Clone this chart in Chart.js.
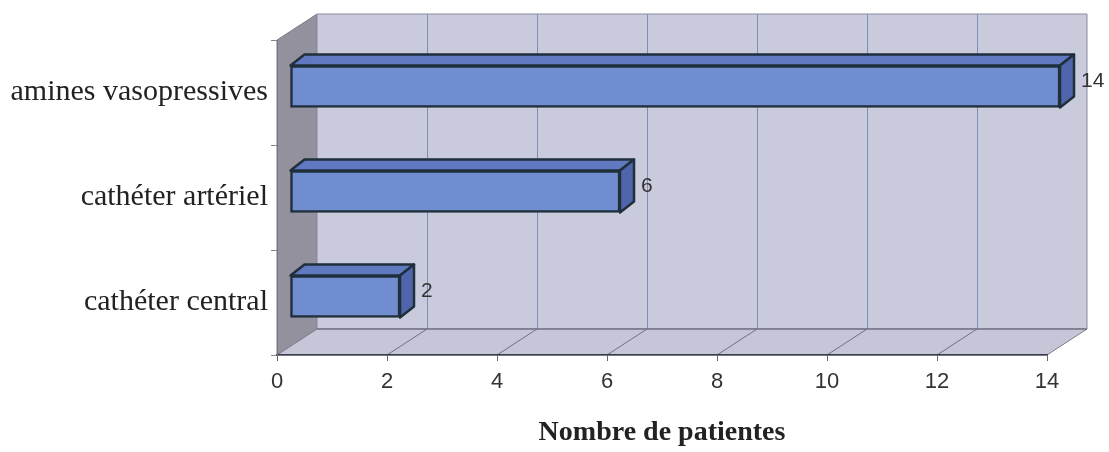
<!DOCTYPE html>
<html>
<head>
<meta charset="utf-8">
<style>
  html, body { margin: 0; padding: 0; background: #fff; }
</style>
</head>
<body>
<canvas id="myChart" width="1109" height="452"></canvas>
<script src="https://cdn.jsdelivr.net/npm/chart.js@4/dist/chart.umd.min.js"></script>
<script>
const categories = ['amines vasopressives', 'cathéter artériel', 'cathéter central'];
const patientCounts = [14, 6, 2];
const xTicks = [0, 2, 4, 6, 8, 10, 12, 14];
const axisTitle = 'Nombre de patientes';

// offsets used for the fake 3d look
const WALL = { dx: 40, dy: -26 };
const BAR = { dx: 14, dy: -11, shiftX: 13, shiftY: -6 };

function poly(ctx, pts, fill, stroke, width) {
    ctx.beginPath();
    ctx.moveTo(pts[0][0], pts[0][1]);
    for (let i = 1; i < pts.length; i++) ctx.lineTo(pts[i][0], pts[i][1]);
    ctx.closePath();
    if (fill) { ctx.fillStyle = fill; ctx.fill(); }
    if (stroke) { ctx.strokeStyle = stroke; ctx.lineWidth = width || 1; ctx.stroke(); }
}

function line(ctx, x1, y1, x2, y2, color, width) {
    ctx.beginPath();
    ctx.moveTo(x1, y1);
    ctx.lineTo(x2, y2);
    ctx.strokeStyle = color;
    ctx.lineWidth = width || 1;
    ctx.stroke();
}

const box3d = {
    id: 'box3d',
    beforeDraw(chart) {
        const ctx = chart.ctx;
        const a = chart.chartArea;
        const x = chart.scales.x;
        const L = a.left, R = a.right, T = a.top, B = a.bottom;
        const dx = WALL.dx, dy = WALL.dy;
        ctx.save();
        // side wall
        poly(ctx, [[L, T], [L + dx, T + dy], [L + dx, B + dy], [L, B]], '#92919d', '#7d7c88', 1);
        // back wall
        poly(ctx, [[L + dx, T + dy], [R + dx, T + dy], [R + dx, B + dy], [L + dx, B + dy]], '#c9cadc', '#8b8ba2', 1);
        // floor
        poly(ctx, [[L, B], [R, B], [R + dx, B + dy], [L + dx, B + dy]], '#c5c7d9', '#7b7b8c', 1);

        xTicks.forEach(v => {
            if (v === 0 || v === xTicks[xTicks.length - 1]) return;
            const px = x.getPixelForValue(v);
            line(ctx, px + dx + 0.5, T + dy, px + dx + 0.5, B + dy, '#7c8fb6', 1);
            line(ctx, px, B, px + dx, B + dy, '#6f7080', 1);
        });
        line(ctx, L + dx, B + dy, R + dx, B + dy, '#6d6d7c', 1.2);
        ctx.restore();
    },
    beforeDatasetsDraw(chart) {
        const ctx = chart.ctx;
        ctx.save();
        ctx.translate(BAR.shiftX, BAR.shiftY);
        ctx.lineJoin = 'round';
        chart.getDatasetMeta(0).data.forEach(bar => {
            const top = bar.y - bar.height / 2;
            const bot = bar.y + bar.height / 2;
            const l = bar.base, r = bar.x;
            poly(ctx, [[l, top], [l + BAR.dx, top + BAR.dy], [r + BAR.dx, top + BAR.dy], [r, top]], '#6079c0', '#1f2f3b', 2.5);
            poly(ctx, [[r, top], [r + BAR.dx, top + BAR.dy], [r + BAR.dx, bot + BAR.dy], [r, bot]], '#5066ac', '#1f2f3b', 2.5);
        });
    },
    afterDatasetsDraw(chart) {
        const ctx = chart.ctx;
        ctx.restore();
        ctx.save();
        ctx.font = '21px "Liberation Sans", Arial, sans-serif';
        ctx.fillStyle = '#333';
        ctx.textAlign = 'left';
        ctx.textBaseline = 'middle';
        const values = chart.data.datasets[0].data;
        chart.getDatasetMeta(0).data.forEach((bar, i) => {
            ctx.fillText(String(values[i]), bar.x + BAR.shiftX + BAR.dx + 7, bar.y + BAR.shiftY - 5);
        });
        ctx.restore();
    }
};

const ctx = document.getElementById('myChart').getContext('2d');
const chart = new Chart(ctx, {
    type: 'bar',
    data: {
        labels: categories,
        datasets: [{
            data: patientCounts,
            backgroundColor: '#708dd0',
            borderColor: '#1f2f3b',
            borderWidth: 2.5,
            borderSkipped: false,
            barThickness: 42,
            clip: false
        }]
    },
    options: {
        indexAxis: 'y',
        responsive: false,
        animation: false,
        layout: { padding: { top: 40, right: 62, left: 0, bottom: 0 } },
        plugins: {
            legend: { display: false },
            tooltip: { enabled: false }
        },
        scales: {
            x: {
                type: 'linear',
                min: 0,
                max: 14,
                afterBuildTicks: s => { s.ticks = xTicks.map(v => ({ value: v })); },
                afterFit: s => { s.height = 97; },
                grid: { drawOnChartArea: false, drawTicks: true, tickLength: 6, color: '#666' },
                border: { display: true, color: '#3a3a44', width: 1.5 },
                ticks: {
                    color: '#333',
                    padding: 8,
                    font: { family: '"Liberation Sans", Arial, sans-serif', size: 22 }
                },
                title: {
                    display: true,
                    text: axisTitle,
                    color: '#222',
                    padding: { top: 0, bottom: 2 },
                    font: { family: '"Liberation Serif", "Times New Roman", serif', size: 28, weight: 'bold' }
                }
            },
            y: {
                type: 'category',
                afterFit: s => { s.width = 277; },
                grid: { offset: true, drawOnChartArea: false, drawTicks: true, tickLength: 6, color: '#888' },
                border: { display: true, color: '#77767f', width: 1 },
                ticks: {
                    color: '#222',
                    padding: 3,
                    font: { family: '"Liberation Serif", "Times New Roman", serif', size: 30 }
                }
            }
        }
    },
    plugins: [box3d]
});
</script>
</body>
</html>
